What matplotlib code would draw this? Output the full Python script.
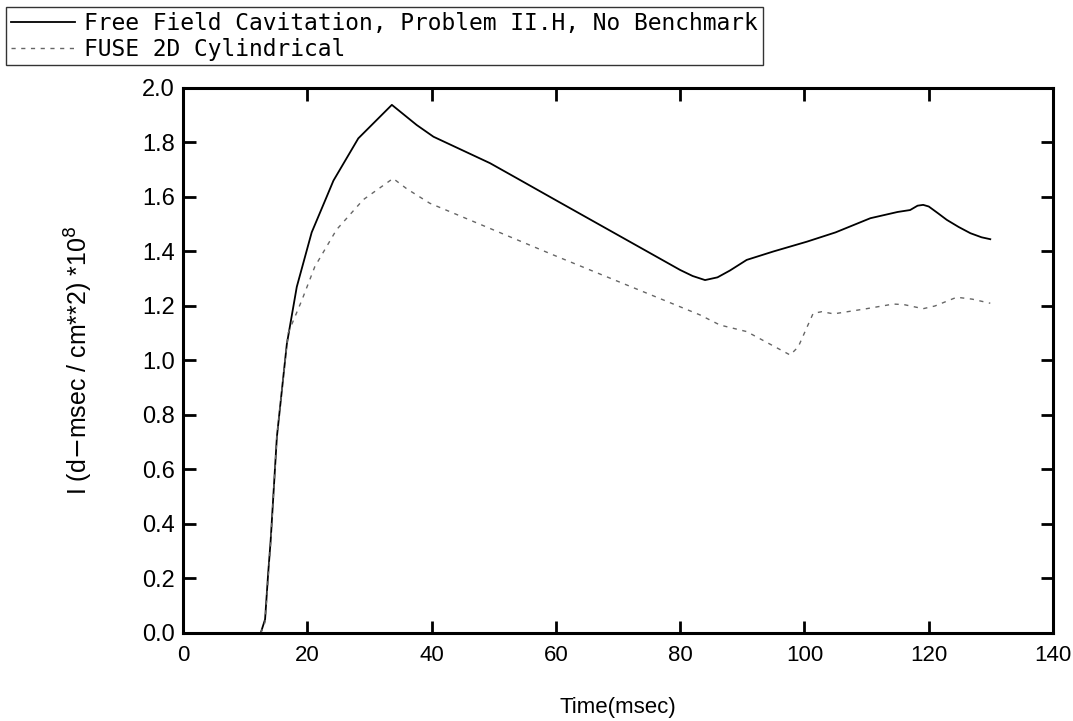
import numpy as np
import matplotlib
matplotlib.use('Agg')
import matplotlib.pyplot as plt

# Free Field Cavitation, Problem II.H (solid)
t_free = [12.5, 13.2, 13.7, 14.1, 15.1, 16.7, 18.3, 20.7, 23.1, 24.2, 28.2, 33.6,
          37.6, 40.3, 49.4, 53.7, 60, 70, 80, 82, 84.0, 86, 88, 90.7, 95, 100.4,
          105, 110.6, 115, 117, 118.2, 119.1, 120, 121.5, 122.9, 124.8, 126.7,
          128.5, 129.9]
i_free = [0.0, 0.05, 0.22, 0.34, 0.72, 1.06, 1.27, 1.47, 1.60, 1.66, 1.815, 1.938,
          1.864, 1.821, 1.724, 1.669, 1.588, 1.46, 1.332, 1.31, 1.295, 1.305, 1.33,
          1.369, 1.40, 1.436, 1.47, 1.522, 1.545, 1.552, 1.568, 1.571, 1.565, 1.54,
          1.516, 1.49, 1.467, 1.452, 1.445]

# FUSE 2D Cylindrical (dashed)
t_fuse = [12.5, 13.2, 13.7, 14.1, 15.1, 16.9, 19.1, 21.2, 24.7, 29.0, 33.8, 36.0,
          39.7, 59.6, 83.2, 86.4, 90.7, 97.7, 99.0, 101.4, 102.8, 104.7, 110,
          114.3, 116, 119.1, 121, 124.5, 127, 129.9]
i_fuse = [0.0, 0.04, 0.20, 0.33, 0.72, 1.10, 1.22, 1.344, 1.48, 1.59, 1.668, 1.63,
          1.577, 1.387, 1.167, 1.13, 1.106, 1.02, 1.05, 1.173, 1.179, 1.171, 1.19,
          1.207, 1.205, 1.19, 1.20, 1.232, 1.225, 1.21]

labels = ['Free Field Cavitation, Problem II.H, No Benchmark', 'FUSE 2D Cylindrical']
xticks = [0, 20, 40, 60, 80, 100, 120, 140]
yticks = [0.0, 0.2, 0.4, 0.6, 0.8, 1.0, 1.2, 1.4, 1.6, 1.8, 2.0]

fig = plt.figure(figsize=(10.73, 7.21), dpi=100)
ax = fig.add_axes([0.1706, 0.1221, 0.8108, 0.7559])

l1, = ax.plot(t_free, i_free, color='black', lw=1.3)
l2, = ax.plot(t_fuse, i_fuse, color='#666666', lw=1.0, linestyle=(0, (3, 4)))

ax.set_xlim(0, 140)
ax.set_ylim(0, 2.0)
ax.set_xticks(xticks)
ax.set_yticks(yticks)
ax.set_xticklabels([str(v) for v in xticks], family=['Liberation Sans Narrow', 'Liberation Sans'], fontsize=16)
ax.set_yticklabels([f'{v:.1f}' for v in yticks], family='Liberation Sans', fontsize=17)
ax.tick_params(direction='in', length=9, width=2, top=True, right=True)
ax.tick_params(axis='x', pad=9)
ax.tick_params(axis='y', pad=6)
for s in ax.spines.values():
    s.set_linewidth(2.2)

ax.set_xlabel('Time(msec)', family=['Liberation Sans Narrow', 'Liberation Sans'], fontsize=16, labelpad=22)
ax.set_ylabel(r'I (d$-$msec / cm**2) *10$^8$', family='Liberation Sans', fontsize=18, labelpad=34)

leg = fig.legend([l1, l2], labels, loc='upper left', bbox_to_anchor=(0.006, 0.99),
                 frameon=True, fancybox=False, edgecolor='black',
                 prop={'family': 'DejaVu Sans Mono', 'size': 16.5},
                 handlelength=2.8, handletextpad=0.4, borderpad=0.2, labelspacing=0.12,
                 borderaxespad=0)
leg.get_frame().set_linewidth(1.0)

fig.savefig('out.png', dpi=100)
